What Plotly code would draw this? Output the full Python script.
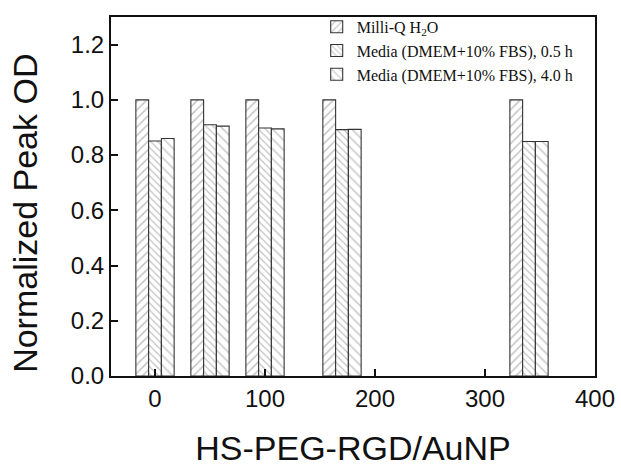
import plotly.graph_objects as go

# HS-PEG-RGD per AuNP ratio (group positions on the x axis)
ratios = [0, 50, 100, 170, 340]

# Normalized peak optical density for each condition
milliq = [1.0, 1.0, 1.0, 1.0, 1.0]
media_05h = [0.851, 0.910, 0.898, 0.892, 0.849]
media_40h = [0.860, 0.905, 0.895, 0.893, 0.849]

series_names = [
    "Milli-Q H<sub>2</sub>O",
    "Media (DMEM+10% FBS), 0.5 h",
    "Media (DMEM+10% FBS), 4.0 h",
]

x_ticks = [0, 100, 200, 300, 400]
y_ticks = [0.0, 0.2, 0.4, 0.6, 0.8, 1.0, 1.2]

bar_w = 11.6
patterns = [
    dict(shape="/", size=6, solidity=0.25),
    dict(shape="\\", size=5, solidity=0.25),
    dict(shape="\\", size=7, solidity=0.2),
]
offsets = [-1.5 * bar_w, -0.5 * bar_w, 0.5 * bar_w]

fig = go.Figure()
for name, vals, pat, off in zip(series_names, [milliq, media_05h, media_40h], patterns, offsets):
    fig.add_trace(go.Bar(
        x=ratios, y=vals, name=name,
        width=bar_w, offset=off,
        marker=dict(
            color="white",
            line=dict(color="#333333", width=1.1),
            pattern=dict(fgcolor="#858585", bgcolor="white", **pat),
        ),
    ))

sans = "Liberation Sans, Arial, sans-serif"
tick_font = dict(family=sans, size=24, color="#111")
title_font = dict(family=sans, size=34, color="#111")

fig.update_layout(
    width=621, height=467,
    margin=dict(l=111, r=26, t=10, b=91),
    paper_bgcolor="white", plot_bgcolor="white",
    barmode="overlay",
    showlegend=True,
    legend=dict(
        x=0.425, y=1.02, xanchor="left", yanchor="top",
        bgcolor="rgba(255,255,255,0)",
        font=dict(family="Liberation Serif, Times New Roman, serif", size=16, color="#111"),
        itemwidth=30,
        tracegroupgap=0,
    ),
    xaxis=dict(
        range=[-40, 400], tickvals=x_ticks, ticktext=[str(v) for v in x_ticks],
        ticks="inside", ticklen=7, tickwidth=1.5, tickcolor="#111",
        showline=True, linecolor="#111", linewidth=2, mirror=True,
        showgrid=False, zeroline=False, automargin=False,
        tickfont=tick_font,
        title=dict(text="HS-PEG-RGD/AuNP", font=title_font, standoff=28),
    ),
    yaxis=dict(
        range=[0, 1.3], tickvals=y_ticks, ticktext=[f"{v:.1f}" for v in y_ticks],
        ticks="inside", ticklen=7, tickwidth=1.5, tickcolor="#111",
        showline=True, linecolor="#111", linewidth=2, mirror=True,
        showgrid=False, zeroline=False, automargin=False,
        tickfont=tick_font,
    ),
    annotations=[
        dict(
            text="Normalized Peak OD", textangle=-90,
            xref="paper", yref="paper", x=-0.178, y=0.454,
            xanchor="center", yanchor="middle", showarrow=False,
            font=title_font,
        )
    ],
)

fig.write_html("out.html")
